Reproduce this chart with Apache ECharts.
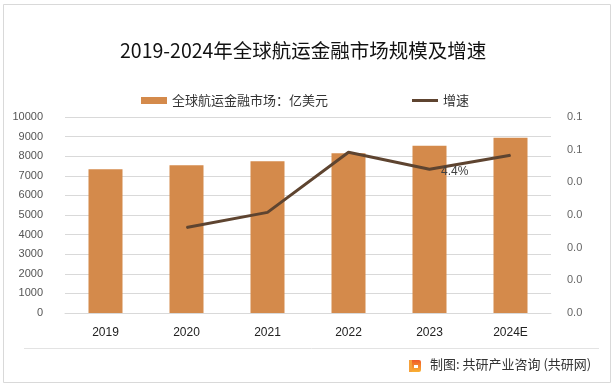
<!DOCTYPE html>
<html>
<head>
<meta charset="utf-8">
<script src="https://cdn.jsdelivr.net/npm/echarts@6/dist/echarts.min.js"></script>
<style>html,body{margin:0;padding:0;background:#fff}#c{width:615px;height:387px}</style>
</head>
<body>
<div id="c"></div>
<script>
const categories = ['2019', '2020', '2021', '2022', '2023', '2024E'];
const marketSize = [7333, 7538, 7744, 8154, 8528, 8938];
const growth = [null, 0.0262, 0.0308, 0.0492, 0.044, 0.0483];
const growthLabels = ['', '', '', '', '4.4%', ''];
const leftTicks = ['0','1000','2000','3000','4000','5000','6000','7000','8000','9000','10000'];
const rightTicks = ['0.0','0.0','0.0','0.0','0.0','0.1','0.1'];
const seriesNames = ['全球航运金融市场：亿美元', '增速'];
const titleText = '2019-2024年全球航运金融市场规模及增速';
const sourceText = '制图: 共研产业咨询 (共研网)';

const font = '"Noto Sans CJK SC", "Liberation Sans", sans-serif';
const chart = echarts.init(document.getElementById('c'), null, {renderer: 'canvas'});
chart.setOption({
  animation: false,
  backgroundColor: '#fff',
  title: {
    text: titleText, left: 115, top: 36,
    textStyle: {fontFamily: font, fontSize: 19.5, fontWeight: 'normal', color: '#111'}
  },
  legend: [
    {
      top: 89, left: 136,
      textStyle: {fontFamily: font, fontSize: 13, color: '#333'},
      data: [{name: seriesNames[0], icon: 'rect', itemStyle: {color: '#D48A4B'}}],
      itemWidth: 26, itemHeight: 7, itemGap: 4
    },
    {
      top: 89, left: 407,
      textStyle: {fontFamily: font, fontSize: 13, color: '#333'},
      data: [{name: seriesNames[1], icon: 'rect', itemStyle: {color: '#5E4430'}}],
      itemWidth: 26, itemHeight: 3, itemGap: 4
    }
  ],
  grid: {left: 65, right: 64, top: 117, bottom: 74},
  xAxis: {
    type: 'category', data: categories,
    axisLine: {lineStyle: {color: '#D9D9D9'}},
    axisTick: {show: false},
    axisLabel: {color: '#222', fontSize: 12, margin: 14, fontFamily: '"Liberation Sans", sans-serif'}
  },
  yAxis: [
    {
      type: 'value', min: 0, max: 10000, interval: 1000,
      axisLine: {show: false}, axisTick: {show: false},
      splitLine: {lineStyle: {color: '#D9D9D9'}},
      axisLabel: {color: '#555', fontSize: 11, margin: 22, fontFamily: '"Liberation Sans", sans-serif',
        formatter: (v, i) => leftTicks[i]}
    },
    {
      type: 'value', min: 0, max: 0.06, interval: 0.01,
      axisLine: {show: false}, axisTick: {show: false}, splitLine: {show: false},
      axisLabel: {color: '#666', fontSize: 11, margin: 16, fontFamily: '"Liberation Sans", sans-serif',
        formatter: (v, i) => rightTicks[i]}
    }
  ],
  series: [
    {
      name: seriesNames[0], type: 'bar', data: marketSize, barWidth: 34,
      itemStyle: {color: '#D48A4B'}
    },
    {
      name: seriesNames[1], type: 'line', yAxisIndex: 1, data: growth,
      symbol: 'circle', symbolSize: 1, showSymbol: true,
      lineStyle: {color: '#5E4430', width: 3},
      itemStyle: {color: '#5E4430'},
      label: {
        show: true, position: 'right', distance: 11, offset: [0, 2],
        color: '#404040', fontSize: 12, fontFamily: '"Liberation Sans", sans-serif',
        formatter: p => growthLabels[p.dataIndex]
      }
    }
  ],
  graphic: [
    {type: 'rect', shape: {x: 3.5, y: 4.5, width: 607, height: 378}, style: {fill: 'none', stroke: '#D9D9D9', lineWidth: 1}, silent: true},
    {type: 'line', shape: {x1: 24, y1: 348.5, x2: 599, y2: 348.5}, style: {stroke: '#E3E3E3', lineWidth: 1}},
    {type: 'rect', shape: {x: 409, y: 360, width: 12, height: 12, r: 2},
      style: {fill: new echarts.graphic.LinearGradient(0, 0, 0, 1, [{offset: 0, color: '#F05A28'}, {offset: 1, color: '#F9B233'}])}},
    {type: 'rect', shape: {x: 409, y: 360, width: 3, height: 12}, style: {fill: '#F6A13A'}},
    {type: 'rect', shape: {x: 414, y: 365, width: 4, height: 3}, style: {fill: '#fff'}},
    {type: 'text', left: 430, top: 358, style: {text: sourceText, font: '13px ' + font, fill: '#333'}}
  ]
});
</script>
</body>
</html>
